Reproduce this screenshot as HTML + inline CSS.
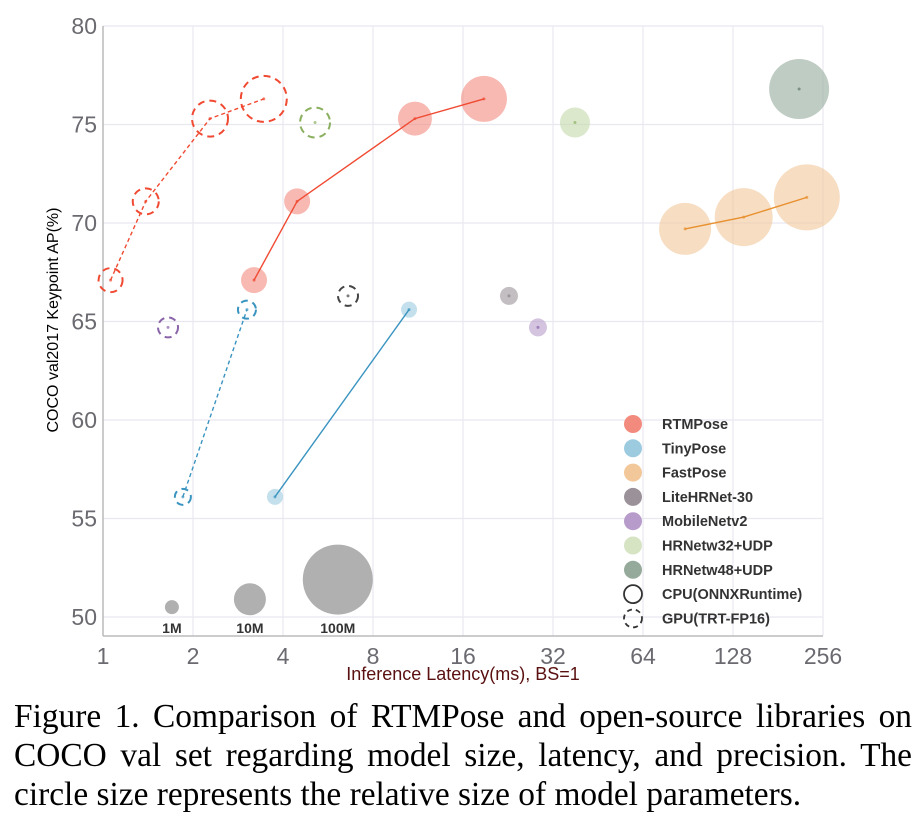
<!DOCTYPE html>
<html><head><meta charset="utf-8"><style>
body{margin:0;background:#fff;width:923px;height:825px;overflow:hidden}
svg text{font-family:"Liberation Sans",sans-serif}
.cap{position:absolute;left:14px;top:697px;width:898px;font-family:"Liberation Serif",serif;font-size:33.4px;line-height:39px;color:#000}
.cap div{text-align:justify;text-align-last:justify;white-space:nowrap}
.cap div.last{text-align-last:left}
</style></head><body>
<svg id="chart" width="923" height="690" style="position:absolute;left:0;top:0"></svg>
<div class="cap"><div>Figure 1. Comparison of RTMPose and open-source libraries on</div><div>COCO val set regarding model size, latency, and precision. The</div><div class="last">circle size represents the relative size of model parameters.</div></div>
<script>
const xTicks=[1,2,4,8,16,32,64,128,256];
const yTicks=[50,55,60,65,70,75,80];
const rtmCpuX=[3.2,4.46,11.05,18.8], rtmCpuY=[67.1,71.1,75.3,76.3], rtmCpuS=[13,13,17,23];
const rtmGpuX=[1.06,1.39,2.28,3.45], rtmGpuY=[67.1,71.1,75.3,76.3], rtmGpuS=[12,13,18,23];
const tinyCpuX=[3.76,10.56], tinyCpuY=[56.1,65.6], tinyCpuS=[8,8];
const tinyGpuX=[1.85,3.03], tinyGpuY=[56.1,65.6], tinyGpuS=[8,9];
const fastX=[88.5,139,226], fastY=[69.7,70.3,71.3], fastS=[26,29,33];
const singleNames=['litehrnet-cpu','litehrnet-gpu','mobilenet-cpu','mobilenet-gpu','hrnet32-cpu','hrnet32-gpu','hrnet48-cpu'];
const singleX=[22.8,6.6,28.5,1.65,37.9,5.12,213];
const singleY=[66.3,66.3,64.7,64.7,75.1,75.1,76.8];
const singleS=[9,10,9,10,15,15,30];
const sizeLabels=['1M','10M','100M'];
const sizeX=[1.7,3.1,6.1], sizeY=[50.5,50.9,51.9], sizeS=[7,16,35];
const legendLabels=['RTMPose','TinyPose','FastPose','LiteHRNet-30','MobileNetv2','HRNetw32+UDP','HRNetw48+UDP','CPU(ONNXRuntime)','GPU(TRT-FP16)'];

const NS='http://www.w3.org/2000/svg', svg=document.getElementById('chart');
const L=103,R=823,T=26,B=617;
const X=v=>L+Math.log2(v)*90;
const Y=v=>B-(v-50)*(B-T)/30;
function el(tag,attrs,parent){const e=document.createElementNS(NS,tag);for(const k in attrs)e.setAttribute(k,attrs[k]);(parent||svg).appendChild(e);return e;}
xTicks.forEach(t=>{const g=el('line',{x1:X(t),x2:X(t),y1:T,y2:636,stroke:'#e8e8f0','stroke-width':1.2});


const tx=el('text',{x:X(t),y:664,'text-anchor':'middle','font-size':23,fill:'#6a6a70'});tx.textContent=t;

});
yTicks.forEach(t=>{const g=el('line',{x1:L,x2:R,y1:Y(t),y2:Y(t),stroke:'#e8e8f0','stroke-width':1.2});


const tx=el('text',{x:97,y:Y(t)+8,'text-anchor':'end','font-size':23,fill:'#6a6a70'});tx.textContent=t;

});
const ya=el('line',{x1:L,x2:L,y1:T,y2:636,stroke:'#bbb','stroke-width':1.5});


const xa=el('line',{x1:L,x2:R,y1:636,y2:636,stroke:'#bbb','stroke-width':1.5});


const yt=el('text',{x:0,y:0,transform:'translate(58,320) rotate(-90)','text-anchor':'middle','font-size':16,fill:'#000'});yt.textContent='COCO val2017 Keypoint AP(%)';


const xt=el('text',{x:463,y:680,'text-anchor':'middle','font-size':18,fill:'#5a1010'});xt.textContent='Inference Latency(ms), BS=1';



function series(name,xs,ys,ss,fill,stroke,dashed){
  for(let i=0;i<xs.length;i++){
    const c=el('circle',{cx:X(xs[i]),cy:Y(ys[i]),r:ss[i],fill:dashed?'none':fill,'fill-opacity':0.6,stroke:dashed?stroke:'none','stroke-width':2,'stroke-dasharray':dashed?'7 5':''});
    
    
    el('circle',{cx:X(xs[i]),cy:Y(ys[i]),r:1.5,fill:stroke,opacity:0.7});
  }
  if(xs.length>1){
    const p=el('polyline',{points:xs.map((x,i)=>X(x)+','+Y(ys[i])).join(' '),fill:'none',stroke:stroke,'stroke-width':1.4,'stroke-dasharray':dashed?'4 3':''});
    
    
  }
}
series('rtmpose-cpu',rtmCpuX,rtmCpuY,rtmCpuS,'#f28b7e','#f04a32',false);
series('rtmpose-gpu',rtmGpuX,rtmGpuY,rtmGpuS,'#f28b7e','#f04a32',true);
series('tinypose-cpu',tinyCpuX,tinyCpuY,tinyCpuS,'#9ccbe0','#3a94c0',false);
series('tinypose-gpu',tinyGpuX,tinyGpuY,tinyGpuS,'#9ccbe0','#3a94c0',true);
series('fastpose',fastX,fastY,fastS,'#f2c79a','#e8902e',false);
const sFill=['#9a9298','','#b79ccb','','#c3d8aa','','#95aa9b'];
const sStroke=['#8a8288','#444','#8a64a8','#8a64a8','#8bb060','#8bb060','#607868'];
singleNames.forEach((n,i)=>series(n,[singleX[i]],[singleY[i]],[singleS[i]],sFill[i],sStroke[i],n.endsWith('gpu')));
sizeLabels.forEach((lab,i)=>{
  const c=el('circle',{cx:X(sizeX[i]),cy:Y(sizeY[i]),r:sizeS[i],fill:'#b0b0b0'});
  
  
  const t=el('text',{x:X(sizeX[i]),y:633,'text-anchor':'middle','font-size':14,'font-weight':'bold',fill:'#333'});t.textContent=lab;
  
  
});
const lgFill=['#f28b7e','#9ccbe0','#f2c79a','#9a9298','#b79ccb','#d6e4c4','#95aa9b'];
legendLabels.forEach((lab,i)=>{
  const y=424+i*24.3;
  let c;
  if(i<7)c=el('circle',{cx:633,cy:y,r:9,fill:lgFill[i]});
  else c=el('circle',{cx:633,cy:y,r:9,fill:'none',stroke:'#333','stroke-width':1.8,'stroke-dasharray':i==8?'5 4':''});
  
  
  const t=el('text',{x:662,y:y+5,'font-size':14.5,'font-weight':'bold',fill:'#333'});t.textContent=lab;
  
  
});
</script>
</body></html>
